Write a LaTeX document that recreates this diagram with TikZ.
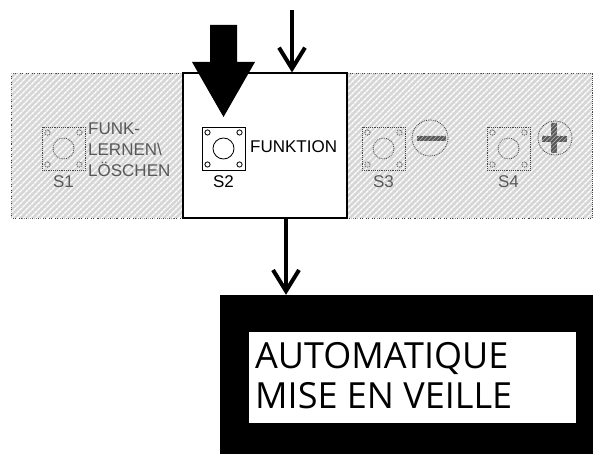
\documentclass[tikz,border=0pt]{standalone}
\usepackage{fontspec}
\setmainfont{Liberation Sans}
\newfontfamily\dispfont{Open Sans}
\usetikzlibrary{arrows.meta,positioning,patterns.meta}

\colorlet{inkgray}{black!65}
\tikzset{
  zone/.style={rectangle, inner sep=0pt, minimum height=145pt,
    fill=gray!32, postaction={pattern={Lines[angle=45,distance=4pt,line width=1.5pt]}, pattern color=white},
    draw=black!75, densely dotted, line width=0.9pt},
  fnbox/.style={rectangle, inner sep=0pt, minimum width=164pt, minimum height=145pt,
    fill=white, draw=black, line width=1.1pt},
  keysq/.style={rectangle, inner sep=0pt, minimum size=43pt},
  keyoff/.style={draw=black!72, densely dotted, line width=0.85pt},
  keyon/.style={draw=black, line width=0.8pt},
  lbl/.style={inner sep=0pt, font=\fontsize{17}{21}\selectfont},
  flow/.style={line width=4pt, -{Straight Barb[length=21pt,width=26pt]}},
  signbar/.style={fill=black!65, postaction={pattern={Lines[angle=45,distance=3pt,line width=0.6pt]}, pattern color=black!30}}
}

\begin{document}
\begin{tikzpicture}[x=1pt,y=-1pt]
    \useasboundingbox (0,0) rectangle (593,454);

    % Keypad strip: two hatched zones and the FUNKTION field
    \node[zone, minimum width=172pt] (lzone) at (97,145.5) {};
    \node[zone, minimum width=245pt] (rzone) at (469.5,145.5) {};
    \node[fnbox] (fn) at (265,145.5) {};

    % Push buttons S1..S4
    \foreach \n/\x/\st/\ink in {1/63.5/keyoff/inkgray, 2/223.5/keyon/black, 3/383.5/keyoff/inkgray, 4/508.5/keyoff/inkgray} {
      \node[keysq, \st] (s\n) at (\x,148.5) {};
      \draw[\st] (s\n.center) circle (10.5);
      \foreach \dx/\dy in {-16/-16, 16/-16, -16/16, 16/16}
        \draw[\st] ([shift={(\dx,\dy)}]s\n.center) circle (2.6);
      \node[lbl, text=\ink, anchor=base] (n\n) at (\x,188) {S\n};
    }

    % Button texts
    \node[lbl, text=inkgray, anchor=base west] (t1a) at (88,135) {FUNK-};
    \node[lbl, text=inkgray, anchor=base west] (t1b) at (88,156) {LERNEN\textbackslash};
    \node[lbl, text=inkgray, anchor=base west] (t1c) at (88,177) {LÖSCHEN};
    \node[lbl, anchor=base west] (t2) at (250,153) {FUNKTION};

    % Minus and plus signs
    \node[circle, keyoff, minimum size=36pt, inner sep=0pt] (minus) at (430,138) {};
    \fill[signbar] (417,136) rectangle (446,141);
    \node[circle, keyoff, minimum size=34pt, inner sep=0pt] (plus) at (555,138) {};
    \fill[signbar] (542,136) rectangle (567,142);
    \fill[signbar] (551,123) rectangle (557,153);

    % Press marker over S2
    \fill[black] (210,25) -- (237,25) -- (237,62) -- (255,62) -- (223.5,117)
      -- (192,62) -- (210,62) -- cycle;

    % Display
    \node[rectangle, fill=black, inner sep=0pt, minimum width=373pt, minimum height=159pt] (disp) at (406.5,374.5) {};
    \node[rectangle, fill=white, inner sep=0pt, minimum width=327pt, minimum height=91pt] (screen) at (412.5,377.5) {};
    \node[inner sep=0pt, anchor=base west, font=\dispfont\fontsize{36}{40}\selectfont] (l1) at (255,368) {AUTOMATIQUE};
    \node[inner sep=0pt, anchor=base west, font=\dispfont\fontsize{36}{40}\selectfont] (l2) at (255,408) {MISE EN VEILLE};

    % Signal flow
    \coordinate (src) at (292,10);
    \coordinate (out) at (286,0);
    \draw[flow] (src) -- (src |- fn.north);
    \draw[flow] (fn.south -| out) -- (disp.north -| out);
\end{tikzpicture}
\end{document}
